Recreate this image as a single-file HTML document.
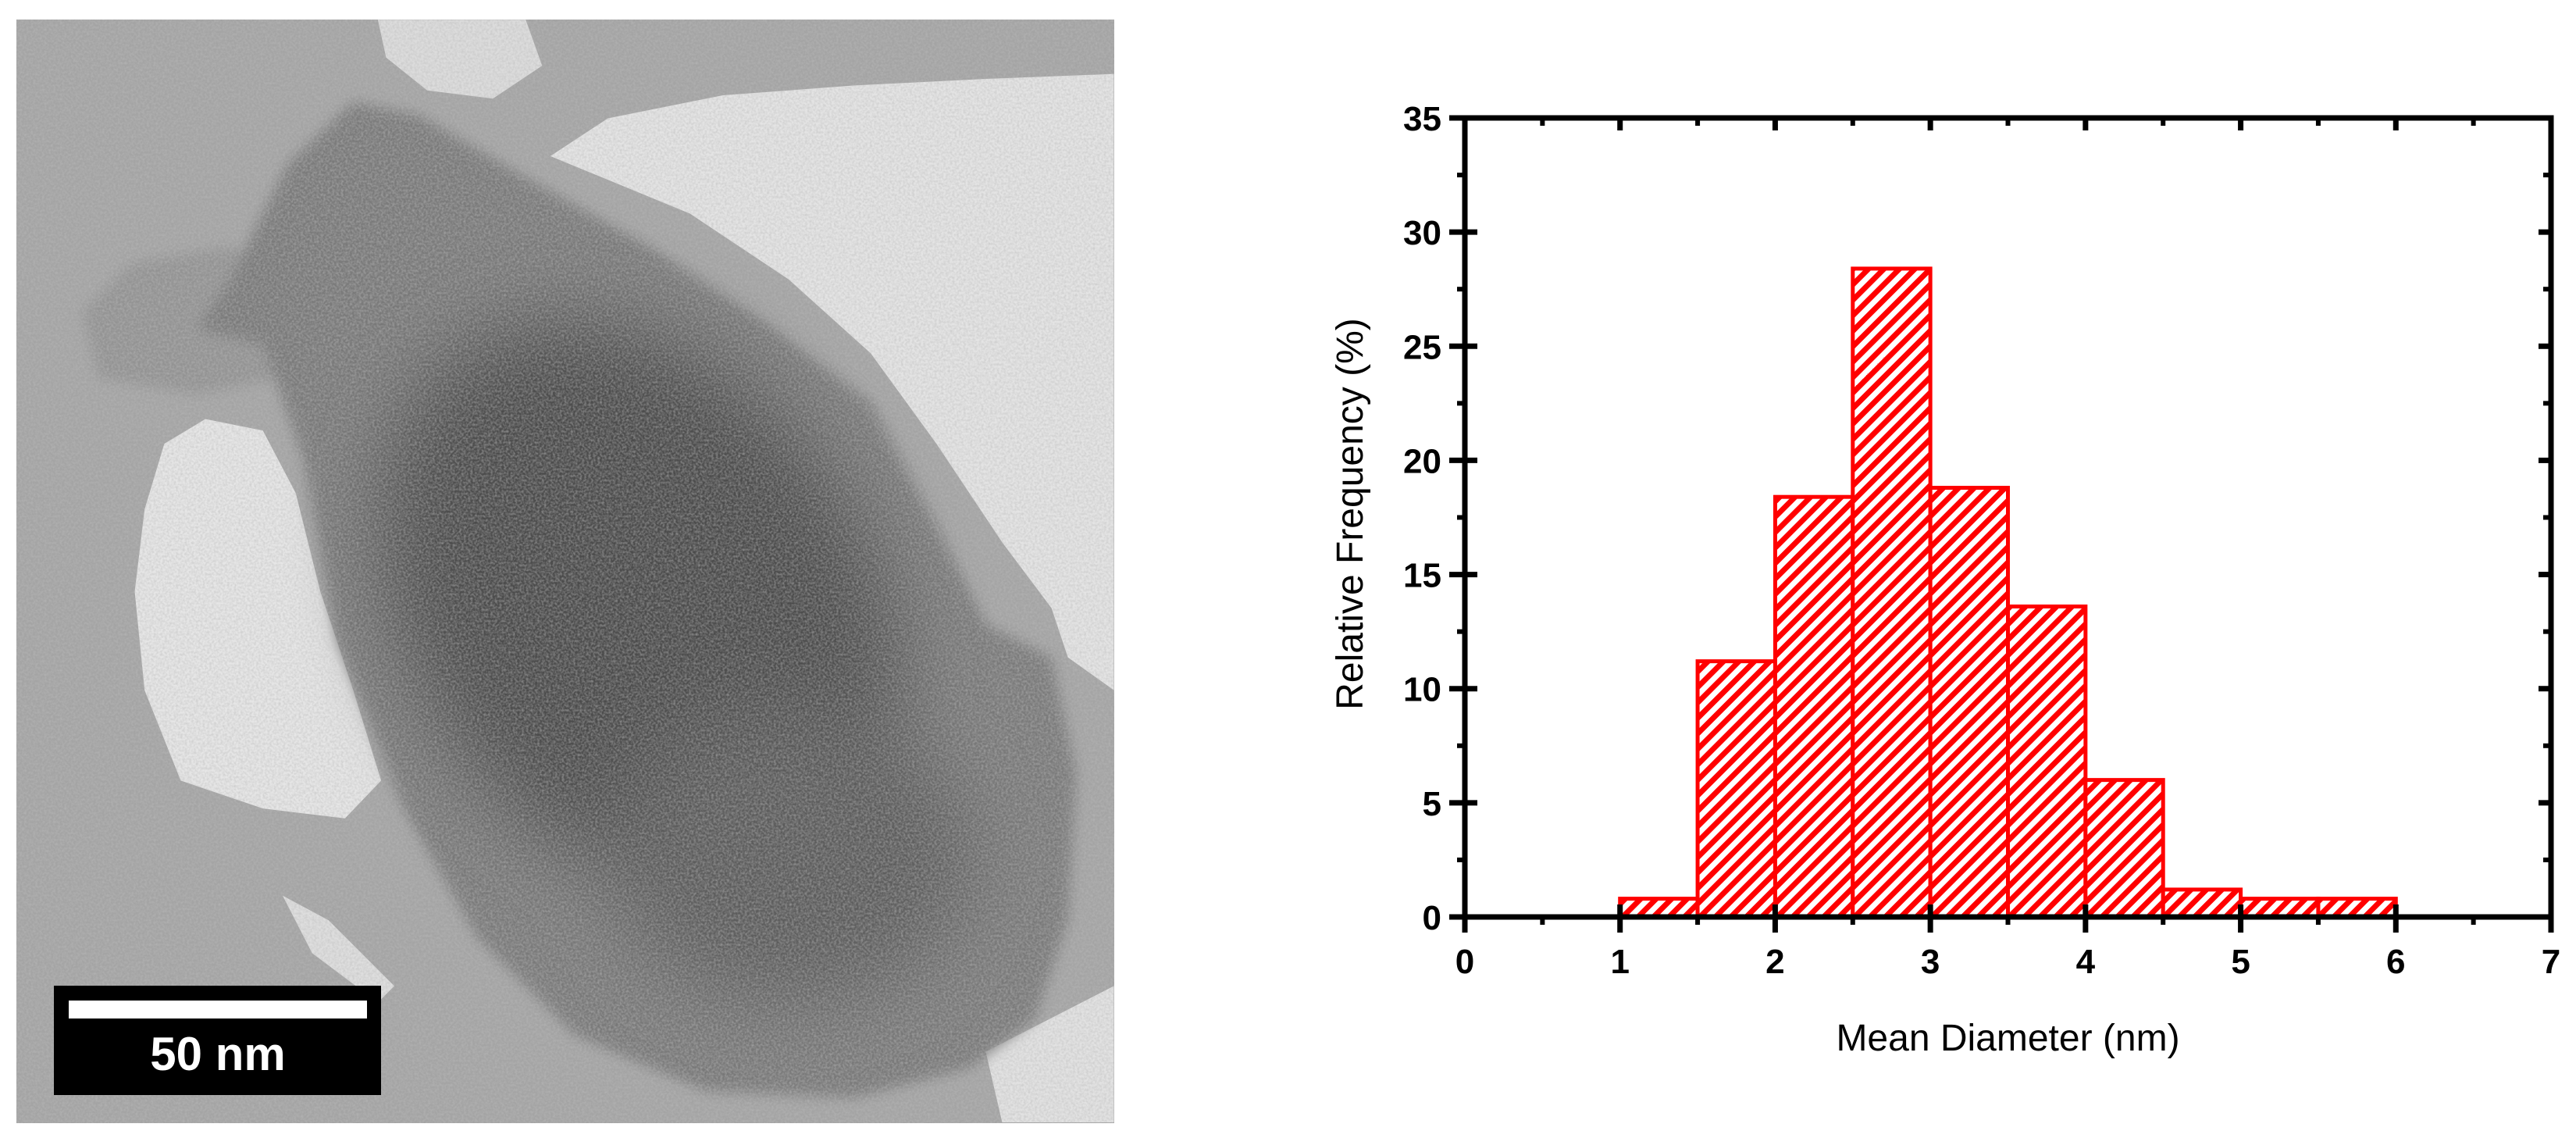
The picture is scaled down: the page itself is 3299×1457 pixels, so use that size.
<!DOCTYPE html>
<html><head><meta charset="utf-8"><style>
html,body{margin:0;padding:0;background:#fff;}
body{width:3299px;height:1457px;position:relative;overflow:hidden;font-family:"Liberation Sans",Arial,sans-serif;}
svg{position:absolute;left:0;top:0;}
</style></head><body>
<svg width="3299" height="1457" viewBox="0 0 3299 1457">
<defs>
<filter id="noise" x="0" y="0" width="100%" height="100%">
<feTurbulence type="fractalNoise" baseFrequency="0.35" numOctaves="2" seed="3" result="t"/>
<feColorMatrix type="matrix" values="0 0 0 0 0.5  0 0 0 0 0.5  0 0 0 0 0.5  0 0 0 1.6 -0.5"/>
</filter>
<filter id="blur20"><feGaussianBlur stdDeviation="25"/></filter>
<filter id="blur4"><feGaussianBlur stdDeviation="4"/></filter>
<pattern id="hatch" width="14" height="14" patternUnits="userSpaceOnUse" patternTransform="rotate(45)">
<rect width="14" height="14" fill="#fff"/>
<rect x="0" y="0" width="7" height="14" fill="#ff0000"/>
</pattern>
<clipPath id="temclip"><rect x="21" y="25" width="1406" height="1413"/></clipPath>
</defs>

<g clip-path="url(#temclip)">
<rect x="21" y="25" width="1406" height="1413" fill="#a4a4a4"/>
<g transform="scale(2.104)">
<polygon fill="#e4e4e4" points="335,95 370,72 440,58 520,52 600,48 678,45 678,420 650,400 640,370 610,330 570,270 530,215 480,170 420,130"/>
<polygon fill="#dcdcdc" points="230,12 320,12 330,40 300,60 260,55 235,35"/>
<polygon fill="#e6e6e6" points="88,310 100,270 125,255 160,262 180,300 195,360 215,420 232,475 210,498 160,492 110,475 88,420 82,360"/>
<polygon fill="#e2e2e2" points="600,640 678,600 678,683 610,683"/>
<polygon fill="#dedede" points="172,545 200,560 240,600 230,610 190,580"/>
<g filter="url(#blur4)">
<polygon fill="#939393" points="50,190 80,160 140,150 175,170 170,230 120,240 60,230"/>
<polygon fill="#7a7a7a" points="175,100 215,62 255,70 320,108 395,150 465,195 530,245 570,320 600,380 640,400 655,470 650,560 630,620 590,650 520,668 430,664 350,630 290,570 245,490 205,390 185,280 160,210 120,200 140,170"/>
</g>
<g filter="url(#blur20)">
<ellipse cx="390" cy="370" rx="140" ry="190" transform="rotate(-35 390 370)" fill="#4c4c4c"/>
<ellipse cx="480" cy="520" rx="110" ry="90" fill="#5c5c5c"/>
</g>
</g>
<rect x="21" y="25" width="1406" height="1413" filter="url(#noise)" opacity="0.6"/>
</g>

<g>
<rect x="69" y="1262" width="419" height="140" fill="#000"/>
<rect x="88" y="1281" width="382" height="23" fill="#fff"/>
<text x="279" y="1370" text-anchor="middle" font-size="60" font-weight="bold" fill="#fff">50 nm</text>
</g>

<g id="chart"></g>
</svg>
<script>
const binStarts=[1,1.5,2,2.5,3,3.5,4,4.5,5,5.5];
const freqs=[0.8,11.2,18.4,28.4,18.8,13.6,6.0,1.2,0.8,0.8];
const binWidth=0.5;
const xTicks=[0,1,2,3,4,5,6,7];
const yTicks=[0,5,10,15,20,25,30,35];

const NS='http://www.w3.org/2000/svg';
const L=1876,R=3267,T=151,B=1174;
const xs=v=>L+(v-0)/7*(R-L);
const ys=v=>B-(v-0)/35*(B-T);
const g=document.getElementById('chart');
function mk(tag,attrs,parent){const e=document.createElementNS(NS,tag);for(const k in attrs)e.setAttribute(k,attrs[k]);(parent||g).appendChild(e);return e;}

binStarts.forEach((s,i)=>{
  const r=mk('rect',{x:xs(s),y:ys(freqs[i]),width:xs(s+binWidth)-xs(s),height:B-ys(freqs[i]),fill:'url(#hatch)',stroke:'#ff0000','stroke-width':5});
  
  
});

const frame=mk('rect',{x:L,y:T,width:R-L,height:B-T,fill:'none',stroke:'#000','stroke-width':7});



xTicks.forEach(t=>{
  mk('line',{x1:xs(t),x2:xs(t),y1:B-16,y2:B+20,stroke:'#000','stroke-width':7});
  mk('line',{x1:xs(t),x2:xs(t),y1:T,y2:T+16,stroke:'#000','stroke-width':7});
  if(t<7){mk('line',{x1:xs(t+0.5),x2:xs(t+0.5),y1:B,y2:B+10,stroke:'#000','stroke-width':6});
  mk('line',{x1:xs(t+0.5),x2:xs(t+0.5),y1:T,y2:T+10,stroke:'#000','stroke-width':6});}
  const lb=mk('text',{x:xs(t),y:B+72,'text-anchor':'middle','font-size':44,'font-weight':'bold',fill:'#000'});
  lb.textContent=t;
  
  
});
yTicks.forEach(t=>{
  mk('line',{x1:L-20,x2:L+16,y1:ys(t),y2:ys(t),stroke:'#000','stroke-width':7});
  mk('line',{x1:R-16,x2:R,y1:ys(t),y2:ys(t),stroke:'#000','stroke-width':7});
  if(t<35){mk('line',{x1:L-10,x2:L,y1:ys(t+2.5),y2:ys(t+2.5),stroke:'#000','stroke-width':6});
  mk('line',{x1:R-10,x2:R,y1:ys(t+2.5),y2:ys(t+2.5),stroke:'#000','stroke-width':6});}
  const lb=mk('text',{x:L-30,y:ys(t)+16,'text-anchor':'end','font-size':44,'font-weight':'bold',fill:'#000'});
  lb.textContent=t;
  
  
});
const xt=mk('text',{x:(L+R)/2,y:1345,'text-anchor':'middle','font-size':48,fill:'#000'});
xt.textContent='Mean Diameter (nm)';


const yt=mk('text',{x:0,y:0,'text-anchor':'middle','font-size':48,fill:'#000',transform:'translate(1745,658) rotate(-90)'});
yt.textContent='Relative Frequency (%)';


</script>
</body></html>
